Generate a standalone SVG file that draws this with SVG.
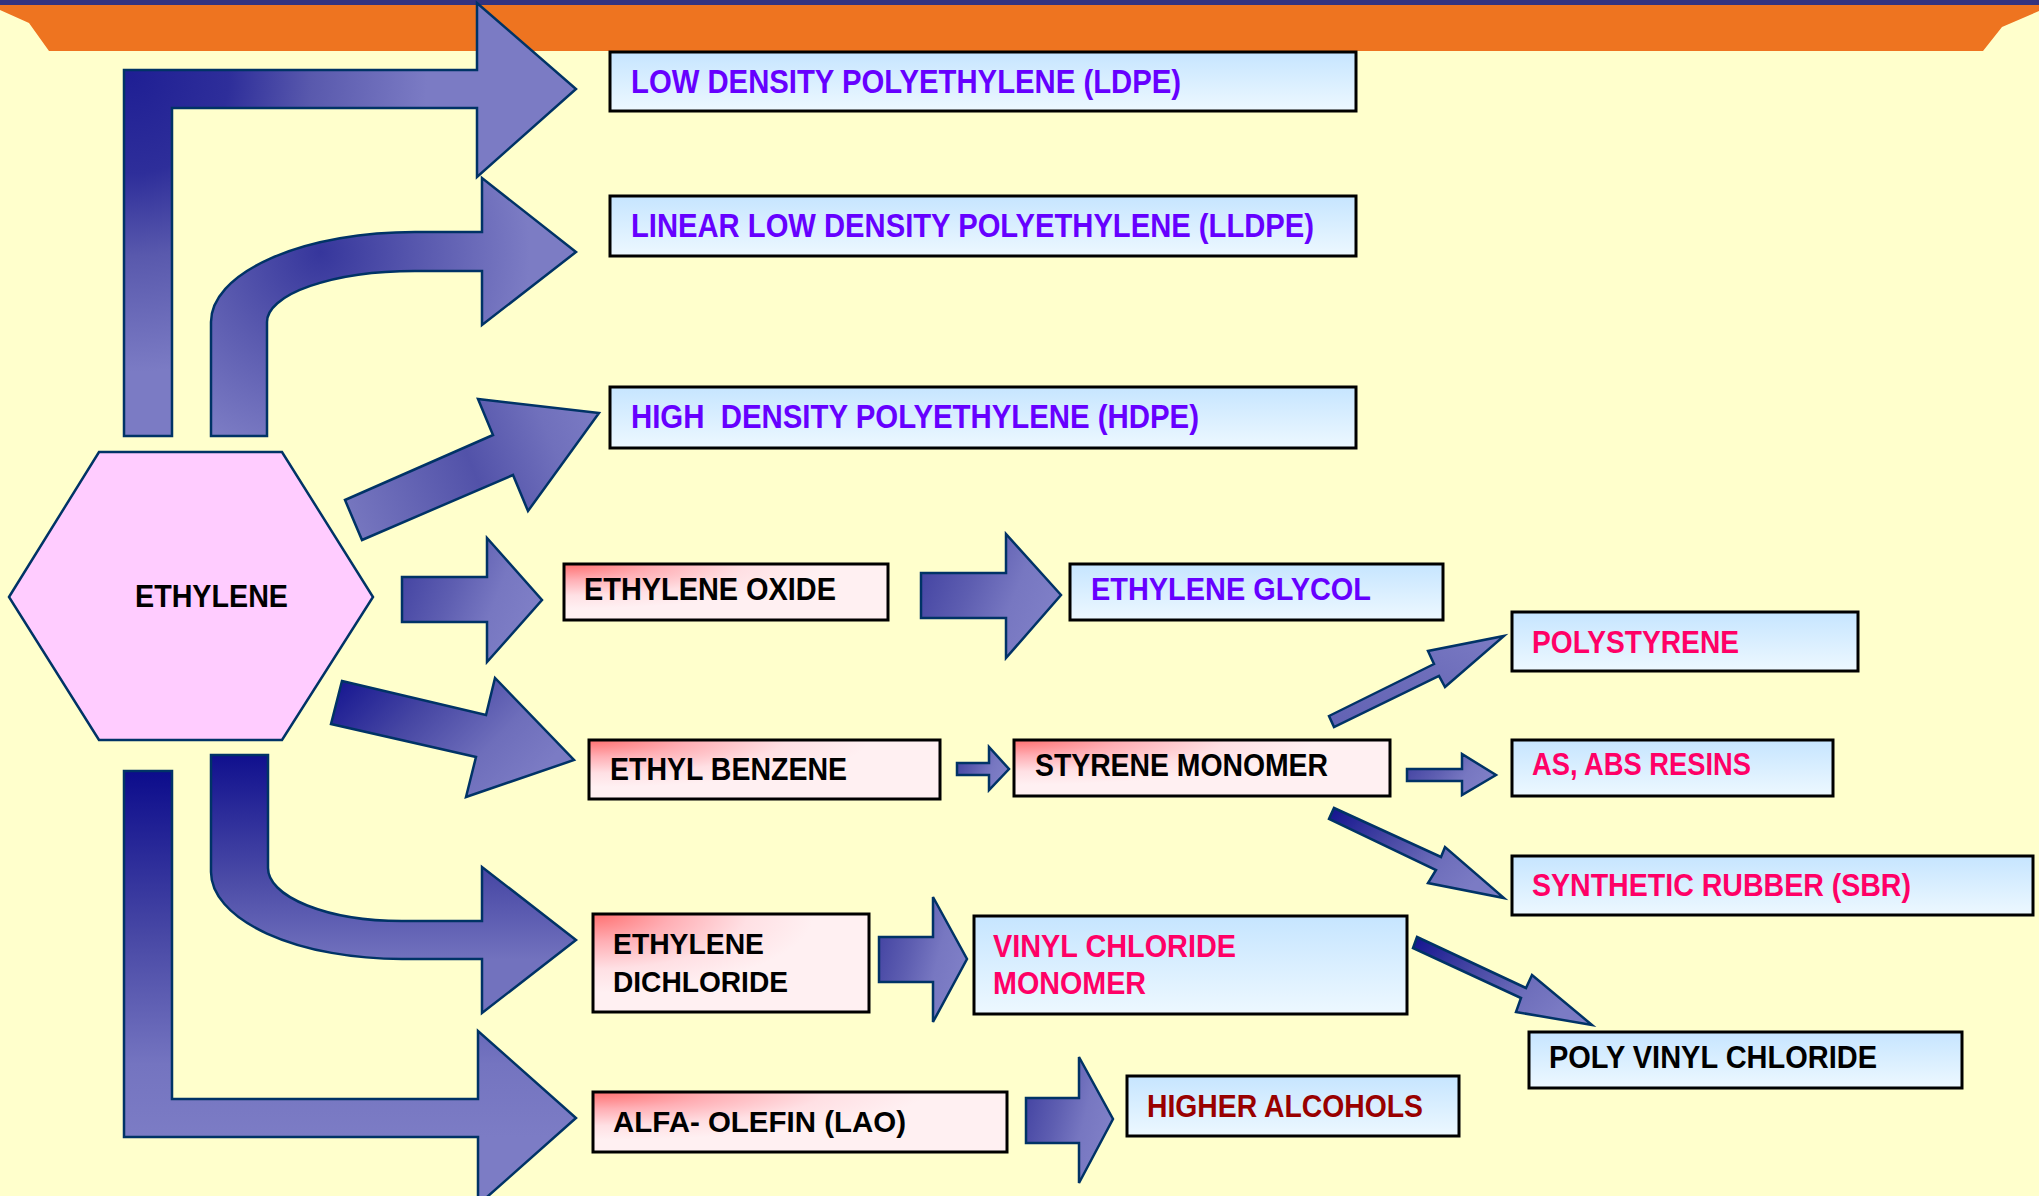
<svg xmlns="http://www.w3.org/2000/svg" width="2039" height="1196" viewBox="0 0 2039 1196">
<defs>
<linearGradient id="gBlue" x1="0" y1="0" x2="0" y2="1">
<stop offset="0" stop-color="#C6E5FF"/>
<stop offset="1" stop-color="#EDF8FF"/>
</linearGradient>
<radialGradient id="gPink" cx="0" cy="0" r="0.8" gradientUnits="objectBoundingBox">
<stop offset="0" stop-color="#FF7070"/>
<stop offset="0.35" stop-color="#FFAEB4"/>
<stop offset="0.7" stop-color="#FFE0E4"/>
<stop offset="1" stop-color="#FFF0F2"/>
</radialGradient>
<radialGradient id="gLdpe" cx="130" cy="75" r="330" gradientUnits="userSpaceOnUse">
<stop offset="0" stop-color="#1F1F94"/>
<stop offset="0.3" stop-color="#2E2E9A"/>
<stop offset="0.55" stop-color="#5959AD"/>
<stop offset="0.9" stop-color="#7B7BC4"/>
</radialGradient>
<radialGradient id="gLldpe" cx="320" cy="252" r="210" gradientUnits="userSpaceOnUse">
<stop offset="0" stop-color="#36369C"/>
<stop offset="0.5" stop-color="#5A5AAF"/>
<stop offset="1" stop-color="#7C7CC4"/>
</radialGradient>
<linearGradient id="gHdpe" x1="345" y1="520" x2="599" y2="413" gradientUnits="userSpaceOnUse">
<stop offset="0" stop-color="#7878C0"/>
<stop offset="0.5" stop-color="#5252A9"/>
<stop offset="0.8" stop-color="#7070BC"/>
<stop offset="1" stop-color="#7B7BC4"/>
</linearGradient>
<linearGradient id="gRight" x1="0" y1="0" x2="1" y2="0.35">
<stop offset="0" stop-color="#3E3E9F"/>
<stop offset="0.45" stop-color="#5E5EB1"/>
<stop offset="0.75" stop-color="#7777C1"/>
<stop offset="1" stop-color="#7E7EC6"/>
</linearGradient>
<linearGradient id="gDiagDark" x1="0" y1="0" x2="1" y2="0.5">
<stop offset="0" stop-color="#12128F"/>
<stop offset="0.4" stop-color="#4646A3"/>
<stop offset="0.75" stop-color="#6E6EBB"/>
<stop offset="1" stop-color="#7B7BC4"/>
</linearGradient>
<linearGradient id="gDiagLight" x1="0" y1="1" x2="1" y2="0">
<stop offset="0" stop-color="#6262B4"/>
<stop offset="0.6" stop-color="#6E6EBB"/>
<stop offset="1" stop-color="#7B7BC4"/>
</linearGradient>
<linearGradient id="gEdc" x1="0" y1="755" x2="0" y2="960" gradientUnits="userSpaceOnUse">
<stop offset="0" stop-color="#10108E"/>
<stop offset="0.6" stop-color="#4A4AA6"/>
<stop offset="1" stop-color="#7272BE"/>
</linearGradient>
<linearGradient id="gAlfa" x1="0" y1="771" x2="0" y2="1137" gradientUnits="userSpaceOnUse">
<stop offset="0" stop-color="#0C0C8C"/>
<stop offset="0.45" stop-color="#4848A5"/>
<stop offset="0.8" stop-color="#7474C0"/>
<stop offset="1" stop-color="#7C7CC5"/>
</linearGradient>
</defs>
<style>
.arr{stroke:#003366;stroke-width:2.5;stroke-linejoin:miter}
.box{stroke:#000;stroke-width:3}
.t{font-family:"Liberation Sans",Arial,sans-serif;font-weight:bold;white-space:pre}
.pu{fill:#6600FF;font-size:34px}
.bk{fill:#000;font-size:31px}
.pk{fill:#FF0066;font-size:31px}
.dr{fill:#990000;font-size:31px}
</style>
<rect x="0" y="0" width="2039" height="1196" fill="#FFFFCC"/>
<polygon points="0,5 2039,5 2039,11 2002,27 1983,51 49,51 29,23 0,10" fill="#EE7420"/>
<rect x="0" y="0" width="2039" height="5" fill="#333380"/>

<g id="connectors">
<path class="arr" fill="url(#gLdpe)" d="M124,436 L124,70 L477,70 L477,3 L576,89 L477,177 L477,108 L172,108 L172,436 Z"/>
<path class="arr" fill="url(#gLldpe)" d="M211,436 L211,322 A204,90 0 0 1 415,232 L482,232 L482,178 L576,252 L482,325 L482,271 L415,271 A148,51 0 0 0 267,322 L267,436 Z"/>
<polygon class="arr" fill="url(#gHdpe)" points="345,500 493,435 478,399 599,413 528,511 513,475 362,540"/>
<path class="arr" fill="url(#gRight)" d="M402,577 L487,577 L487,538 L542,600 L487,662 L487,622 L402,622 Z"/>
<polygon class="arr" fill="url(#gDiagDark)" points="342,681 486,715 495,678 574,760 466,797 476,757 331,724"/>
<path class="arr" fill="url(#gEdc)" d="M211,755 L268,755 L268,868 A134,53 0 0 0 402,921 L482,921 L482,867 L576,940 L482,1013 L482,959 L402,959 A191,87 0 0 1 211,872 Z"/>
<path class="arr" fill="url(#gAlfa)" d="M124,771 L172,771 L172,1099 L478,1099 L478,1031 L576,1118 L478,1205 L478,1137 L124,1137 Z"/>
<path class="arr" fill="url(#gRight)" d="M921,573 L1006,573 L1006,534 L1061,595 L1006,658 L1006,618 L921,618 Z"/>
<path class="arr" fill="url(#gRight)" d="M957,763 L989,763 L989,747 L1009,769 L989,790 L989,775 L957,775 Z"/>
<path class="arr" fill="url(#gRight)" d="M1407,769 L1462,769 L1462,754 L1496,775 L1462,795 L1462,781 L1407,781 Z"/>
<polygon class="arr" fill="url(#gDiagLight)" points="1329,716 1434,664 1428,651 1504,636 1445,687 1439,676 1334,727"/>
<polygon class="arr" fill="url(#gDiagDark)" points="1334,808 1441,857 1445,847 1504,898 1428,883 1436,870 1329,819"/>
<path class="arr" fill="url(#gRight)" d="M879,937 L933,937 L933,897 L967,959 L933,1022 L933,982 L879,982 Z"/>
<polygon class="arr" fill="url(#gDiagDark)" points="1417,937 1526,988 1532,975 1592,1025 1516,1012 1521,998 1413,948"/>
<path class="arr" fill="url(#gRight)" d="M1026,1098 L1079,1098 L1079,1057 L1113,1119 L1079,1183 L1079,1143 L1026,1143 Z"/>
</g>

<g id="ethylene">
<polygon points="9,597 99,452 282,452 373,597 282,740 99,740" fill="#FFCCFF" stroke="#003366" stroke-width="2.5"/>
<text class="t bk" x="135" y="607" textLength="153" lengthAdjust="spacingAndGlyphs">ETHYLENE</text>
</g>

<g id="ldpe">
<rect class="box" x="610" y="52" width="746" height="59" fill="url(#gBlue)"/>
<text class="t pu" x="631" y="93" textLength="550" lengthAdjust="spacingAndGlyphs">LOW DENSITY POLYETHYLENE (LDPE)</text>
</g>
<g id="lldpe">
<rect class="box" x="610" y="196" width="746" height="60" fill="url(#gBlue)"/>
<text class="t pu" x="631" y="237" textLength="683" lengthAdjust="spacingAndGlyphs">LINEAR LOW DENSITY POLYETHYLENE (LLDPE)</text>
</g>
<g id="hdpe">
<rect class="box" x="610" y="387" width="746" height="61" fill="url(#gBlue)"/>
<text class="t pu" x="631" y="428" textLength="568" lengthAdjust="spacingAndGlyphs">HIGH  DENSITY POLYETHYLENE (HDPE)</text>
</g>

<g id="ethylene-oxide">
<rect class="box" x="564" y="564" width="324" height="56" fill="url(#gPink)"/>
<text class="t bk" x="584" y="600" textLength="252" lengthAdjust="spacingAndGlyphs">ETHYLENE OXIDE</text>
</g>
<g id="ethylene-glycol">
<rect class="box" x="1070" y="564" width="373" height="56" fill="url(#gBlue)"/>
<text class="t bk" style="fill:#6600FF" x="1091" y="600" textLength="280" lengthAdjust="spacingAndGlyphs">ETHYLENE GLYCOL</text>
</g>

<g id="ethyl-benzene">
<rect class="box" x="589" y="740" width="351" height="59" fill="url(#gPink)"/>
<text class="t bk" x="610" y="780" textLength="237" lengthAdjust="spacingAndGlyphs">ETHYL BENZENE</text>
</g>
<g id="styrene-monomer">
<rect class="box" x="1014" y="740" width="376" height="56" fill="url(#gPink)"/>
<text class="t bk" x="1035" y="776" textLength="293" lengthAdjust="spacingAndGlyphs">STYRENE MONOMER</text>
</g>

<g id="polystyrene">
<rect class="box" x="1512" y="612" width="346" height="59" fill="url(#gBlue)"/>
<text class="t pk" x="1532" y="653" textLength="207" lengthAdjust="spacingAndGlyphs">POLYSTYRENE</text>
</g>
<g id="as-abs-resins">
<rect class="box" x="1512" y="740" width="321" height="56" fill="url(#gBlue)"/>
<text class="t pk" x="1532" y="775" textLength="219" lengthAdjust="spacingAndGlyphs">AS, ABS RESINS</text>
</g>
<g id="sbr">
<rect class="box" x="1512" y="856" width="521" height="59" fill="url(#gBlue)"/>
<text class="t pk" x="1532" y="896" textLength="379" lengthAdjust="spacingAndGlyphs">SYNTHETIC RUBBER (SBR)</text>
</g>

<g id="ethylene-dichloride">
<rect class="box" x="593" y="914" width="276" height="98" fill="url(#gPink)"/>
<text class="t bk" style="font-size:30px" x="613" y="954" textLength="151" lengthAdjust="spacingAndGlyphs">ETHYLENE</text>
<text class="t bk" style="font-size:30px" x="613" y="992" textLength="175" lengthAdjust="spacingAndGlyphs">DICHLORIDE</text>
</g>
<g id="vinyl-chloride-monomer">
<rect class="box" x="974" y="916" width="433" height="98" fill="url(#gBlue)"/>
<text class="t pk" x="993" y="957" textLength="243" lengthAdjust="spacingAndGlyphs">VINYL CHLORIDE</text>
<text class="t pk" x="993" y="994" textLength="153" lengthAdjust="spacingAndGlyphs">MONOMER</text>
</g>
<g id="poly-vinyl-chloride">
<rect class="box" x="1529" y="1032" width="433" height="56" fill="url(#gBlue)"/>
<text class="t bk" x="1549" y="1068" textLength="328" lengthAdjust="spacingAndGlyphs">POLY VINYL CHLORIDE</text>
</g>
<g id="higher-alcohols">
<rect class="box" x="1127" y="1076" width="332" height="60" fill="url(#gBlue)"/>
<text class="t dr" x="1147" y="1117" textLength="276" lengthAdjust="spacingAndGlyphs">HIGHER ALCOHOLS</text>
</g>
<g id="alfa-olefin">
<rect class="box" x="593" y="1092" width="414" height="60" fill="url(#gPink)"/>
<text class="t bk" style="font-size:30px" x="613" y="1132" textLength="293" lengthAdjust="spacingAndGlyphs">ALFA- OLEFIN (LAO)</text>
</g>
</svg>
